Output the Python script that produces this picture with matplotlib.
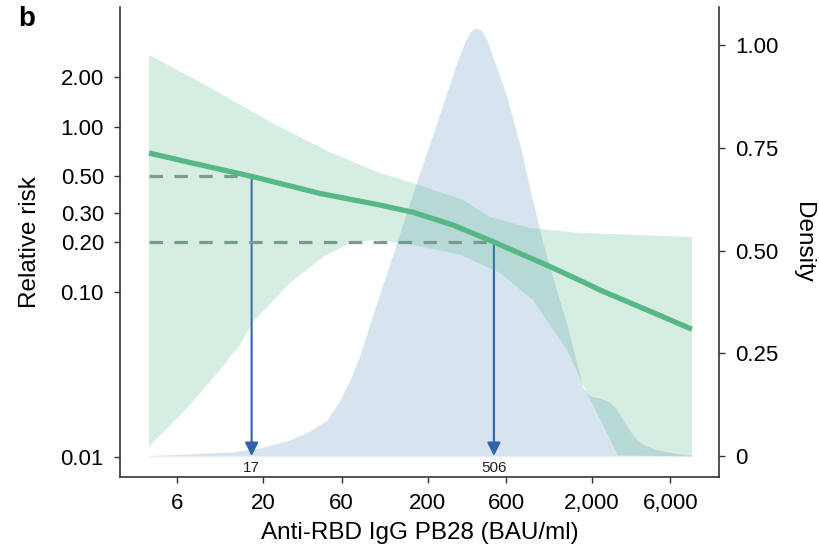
import matplotlib
matplotlib.use('Agg')
import matplotlib.pyplot as plt
from matplotlib.ticker import FixedLocator, FixedFormatter, NullLocator

plt.rcParams['font.family'] = ['Liberation Sans', 'DejaVu Sans']

# fitted relative risk vs antibody level (BAU/ml)
rr_x = [4.04, 6.84, 17, 44.3, 102.6, 162.8, 285, 506, 1109, 1689, 2236, 4319, 8110]
rr = [0.693, 0.613, 0.50, 0.394, 0.335, 0.303, 0.2535, 0.20, 0.142, 0.117, 0.1023, 0.0775, 0.0592]

# 95% confidence band
ub_x = [4.04, 7.85, 22.9, 50.9, 102.6, 162.8, 328, 479, 839, 1689, 8110]
ub = [2.72, 1.92, 1.05, 0.70, 0.524, 0.456, 0.36, 0.284, 0.243, 0.227, 0.2145]
lb_x = [4.04, 7.16, 10.9, 14.4, 17.5, 29.1, 46.2, 67.4, 93, 126.5, 162.8, 314.6, 551, 875, 1408, 1863, 2877, 8110]
lb = [0.0115, 0.0206, 0.0335, 0.0475, 0.0664, 0.113, 0.162, 0.197, 0.206, 0.200, 0.192, 0.168, 0.13, 0.089, 0.0443, 0.0243, 0.0102, 0.01]

# density of antibody levels
dens_x = [4.04, 7.16, 13.1, 19.1, 29.1, 38.5, 48.8, 58.6, 67.4, 77.5, 85.5, 102.6, 128.3, 162.8,
          206.6, 261.1, 301.6, 337.3, 366.8, 393.6, 422, 459, 514, 605, 729, 875, 1006, 1157,
          1408, 1620, 1762, 1942, 2236, 2572, 2836, 3085, 3403, 3754, 4319, 4968, 6389, 8110]
dens = [0.001, 0.005, 0.01, 0.0195, 0.039, 0.061, 0.088, 0.136, 0.185, 0.246, 0.299, 0.397, 0.514, 0.64,
        0.762, 0.884, 0.959, 1.008, 1.035, 1.042, 1.037, 1.013, 0.957, 0.876, 0.757, 0.618, 0.518, 0.433,
        0.319, 0.224, 0.166, 0.146, 0.141, 0.131, 0.112, 0.088, 0.061, 0.039, 0.024, 0.015, 0.007, 0.002]

# risk thresholds and the antibody levels where the curve reaches them
thresholds = [0.50, 0.20]
cutoffs = [17, 506]

x_ticks = [6, 20, 60, 200, 600, 2000, 6000]
x_labels = ['6', '20', '60', '200', '600', '2,000', '6,000']
rr_ticks = [0.01, 0.10, 0.20, 0.30, 0.50, 1.00, 2.00]
rr_labels = ['0.01', '0.10', '0.20', '0.30', '0.50', '1.00', '2.00']
dens_ticks = [0, 0.25, 0.50, 0.75, 1.00]
dens_labels = ['0', '0.25', '0.50', '0.75', '1.00']

green = '#55b886'
blue_fill = '#d5e4ef'
arrow_col = '#2f64ad'
dash_col = '#849490'
spine_col = '#333333'

fig = plt.figure(figsize=(8.2, 5.56), dpi=100)
ax = fig.add_axes([0.1463, 0.1421, 0.7305, 0.8453])
ax2 = ax.twinx()

# density on the right axis, drawn underneath
ax2.fill_between(dens_x, 0, dens, color=blue_fill, lw=0)
ax2.set_ylim(-0.0511, 1.093)
ax.set_zorder(ax2.get_zorder() + 1)
ax.patch.set_visible(False)

ax.set_xscale('log')
ax.set_yscale('log')
ax.set_xlim(2.689, 11837)
ax.set_ylim(0.00753, 5.315)

# dashed threshold lines and arrows down to the cutoff values
for t, c in zip(thresholds, cutoffs):
    ax.plot([rr_x[0], c], [t, t], color=dash_col, lw=2.3, dashes=(4.2, 3.6), zorder=1)
    ax.annotate('', xy=(c, 0.0101), xytext=(c, t),
                arrowprops=dict(arrowstyle='-|>', color=arrow_col, lw=1.5,
                                mutation_scale=20, shrinkA=0, shrinkB=0), zorder=1)
    ax.annotate(str(c), xy=(c, 0.01), xytext=(0, -3), textcoords='offset points',
                ha='center', va='top', fontsize=11, color='#222222')

ax.fill_between(lb_x + ub_x[::-1], lb + ub[::-1], color=green, alpha=0.24, lw=0, zorder=2)
ax.plot(rr_x, rr, color=green, lw=3.8, solid_capstyle='butt', zorder=3)

ax.xaxis.set_major_locator(FixedLocator(x_ticks))
ax.xaxis.set_major_formatter(FixedFormatter(x_labels))
ax.xaxis.set_minor_locator(NullLocator())
ax.yaxis.set_major_locator(FixedLocator(rr_ticks))
ax.yaxis.set_major_formatter(FixedFormatter(rr_labels))
ax.yaxis.set_minor_locator(NullLocator())
ax2.yaxis.set_major_locator(FixedLocator(dens_ticks))
ax2.yaxis.set_major_formatter(FixedFormatter(dens_labels))

for a in (ax, ax2):
    a.spines['top'].set_visible(False)
    for s in a.spines.values():
        s.set_color(spine_col)
        s.set_linewidth(1.2)
    a.tick_params(direction='out', length=4.5, width=1, color=spine_col, labelsize=16)
ax.spines['right'].set_visible(False)
ax2.spines['left'].set_visible(False)
ax2.spines['bottom'].set_visible(False)
ax.tick_params(axis='x', pad=7)
ax.tick_params(axis='y', pad=7)
ax2.tick_params(axis='y', pad=7)

ax.set_xlabel('Anti-RBD IgG PB28 (BAU/ml)', fontsize=17.5, labelpad=6)
ax.set_ylabel('Relative risk', fontsize=17.5, labelpad=14)
ax2.set_ylabel('Density', fontsize=17.5, rotation=270, labelpad=26)

fig.text(0.022, 0.99, 'b', fontsize=20, fontweight='bold', va='top', ha='left')

fig.savefig('out.png', dpi=100)
